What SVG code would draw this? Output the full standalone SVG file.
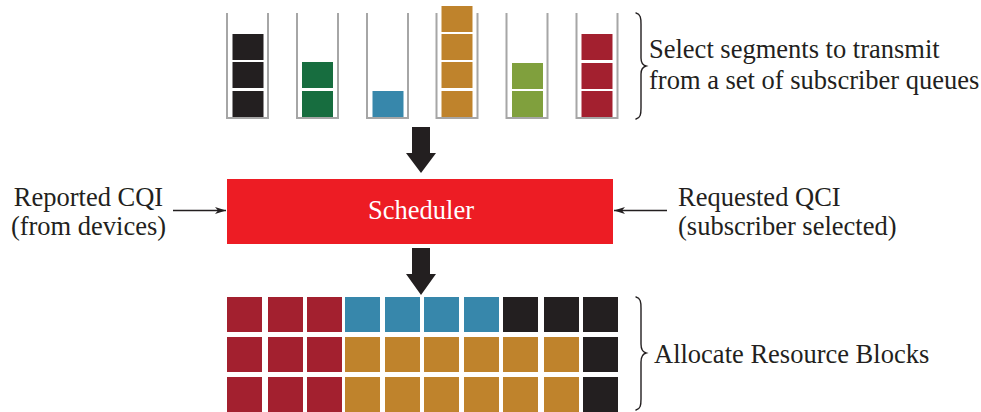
<svg xmlns="http://www.w3.org/2000/svg" width="981" height="412" viewBox="0 0 981 412">
  <style>
    text { font-family: "Liberation Serif", "Times New Roman", serif; font-size: 26.5px; fill: #231f20; }
    .wall { fill: none; stroke: #a6a6a6; stroke-width: 2; }
    .brace { fill: none; stroke: #231f20; stroke-width: 1.4; stroke-linecap: round; }
    .thin { stroke: #231f20; stroke-width: 1.3; fill: none; }
    .big { fill: #231f20; }
    .k { fill: #231f20; }
    .g { fill: #176d3f; }
    .b { fill: #3787ab; }
    .o { fill: #bf832c; }
    .v { fill: #80a03d; }
    .r { fill: #a3202f; }
  </style>
  <defs>
    <marker id="barb" markerWidth="12" markerHeight="8" refX="11" refY="4" orient="auto" markerUnits="userSpaceOnUse">
      <path d="M0,0.6 L11,4 L0,7.4 L3,4 Z" fill="#231f20"/>
    </marker>
  </defs>

  <!-- subscriber queues -->
  <g id="queue1">
    <path class="wall" d="M227,13 V118 H268 V13"/>
    <rect class="k" x="232.5" y="34" width="31" height="26"/>
    <rect class="k" x="232.5" y="62" width="31" height="26"/>
    <rect class="k" x="232.5" y="91" width="31" height="26"/>
  </g>
  <g id="queue2">
    <path class="wall" d="M297,13 V118 H338 V13"/>
    <rect class="g" x="302" y="62" width="31" height="26"/>
    <rect class="g" x="302" y="91" width="31" height="26"/>
  </g>
  <g id="queue3">
    <path class="wall" d="M367,13 V118 H408 V13"/>
    <rect class="b" x="372.5" y="91" width="31" height="26"/>
  </g>
  <g id="queue4">
    <path class="wall" d="M436.5,13 V118 H477.5 V13"/>
    <rect class="o" x="441.5" y="6" width="31" height="26"/>
    <rect class="o" x="441.5" y="34" width="31" height="26"/>
    <rect class="o" x="441.5" y="62" width="31" height="26"/>
    <rect class="o" x="441.5" y="91" width="31" height="26"/>
  </g>
  <g id="queue5">
    <path class="wall" d="M506.5,13 V118 H547.5 V13"/>
    <rect class="v" x="512" y="63" width="31" height="26"/>
    <rect class="v" x="512" y="91" width="31" height="26"/>
  </g>
  <g id="queue6">
    <path class="wall" d="M576.5,13 V118 H617.5 V13"/>
    <rect class="r" x="581.5" y="34" width="31" height="26"/>
    <rect class="r" x="581.5" y="63" width="31" height="26"/>
    <rect class="r" x="581.5" y="91" width="31" height="26"/>
  </g>

  <g id="queues-label">
    <path class="brace" d="M636,13 C640.5,14 641,18 641,24 L641,58 C641,63 642.5,65 646,66 C642.5,67 641,69 641,74 L641,108 C641,114 640.5,118 636,119"/>
    <text x="649" y="58">Select segments to transmit</text>
    <text x="649" y="89">from a set of subscriber queues</text>
  </g>

  <!-- scheduler -->
  <g id="scheduler">
    <rect x="227" y="179" width="386" height="65" fill="#ed1c24"/>
    <text x="421" y="219" text-anchor="middle" style="fill:#ffffff">Scheduler</text>
  </g>

  <g id="cqi">
    <text x="88.5" y="206" text-anchor="middle">Reported CQI</text>
    <text x="88.5" y="235" text-anchor="middle">(from devices)</text>
  </g>

  <g id="qci">
    <text x="678" y="206">Requested QCI</text>
    <text x="678" y="235">(subscriber selected)</text>
  </g>

  <!-- resource block grid -->
  <g id="resource-blocks">
    <rect class="r" x="227" y="297" width="35" height="35"/>
    <rect class="r" x="268" y="297" width="35" height="35"/>
    <rect class="r" x="307" y="297" width="35" height="35"/>
    <rect class="b" x="345" y="297" width="35" height="35"/>
    <rect class="b" x="385" y="297" width="35" height="35"/>
    <rect class="b" x="424" y="297" width="35" height="35"/>
    <rect class="b" x="464" y="297" width="35" height="35"/>
    <rect class="k" x="503" y="297" width="35" height="35"/>
    <rect class="k" x="544" y="297" width="35" height="35"/>
    <rect class="k" x="583" y="297" width="35" height="35"/>

    <rect class="r" x="227" y="337" width="35" height="35"/>
    <rect class="r" x="268" y="337" width="35" height="35"/>
    <rect class="r" x="307" y="337" width="35" height="35"/>
    <rect class="o" x="345" y="337" width="35" height="35"/>
    <rect class="o" x="385" y="337" width="35" height="35"/>
    <rect class="o" x="424" y="337" width="35" height="35"/>
    <rect class="o" x="464" y="337" width="35" height="35"/>
    <rect class="o" x="503" y="337" width="35" height="35"/>
    <rect class="o" x="544" y="337" width="35" height="35"/>
    <rect class="k" x="583" y="337" width="35" height="35"/>

    <rect class="r" x="227" y="377" width="35" height="35"/>
    <rect class="r" x="268" y="377" width="35" height="35"/>
    <rect class="r" x="307" y="377" width="35" height="35"/>
    <rect class="o" x="345" y="377" width="35" height="35"/>
    <rect class="o" x="385" y="377" width="35" height="35"/>
    <rect class="o" x="424" y="377" width="35" height="35"/>
    <rect class="o" x="464" y="377" width="35" height="35"/>
    <rect class="o" x="503" y="377" width="35" height="35"/>
    <rect class="o" x="544" y="377" width="35" height="35"/>
    <rect class="k" x="583" y="377" width="35" height="35"/>
  </g>

  <g id="blocks-label">
    <path class="brace" d="M636,297 C640.5,298 641,302 641,308 L641,344 C641,349 642.5,352 646,353 C642.5,354 641,357 641,362 L641,399 C641,405 640.5,409 636,410"/>
    <text x="654" y="363">Allocate Resource Blocks</text>
  </g>

  <!-- connectors -->
  <g id="connectors">
    <path class="big" d="M412,127 H430 V153 H436 L421,173 L406,153 H412 Z"/>
    <path class="big" d="M412,248 H430 V274 H436 L421,295 L406,274 H412 Z"/>
    <line class="thin" x1="173" y1="210.5" x2="226" y2="210.5" marker-end="url(#barb)"/>
    <line class="thin" x1="667" y1="210.5" x2="614" y2="210.5" marker-end="url(#barb)"/>
  </g>
</svg>
